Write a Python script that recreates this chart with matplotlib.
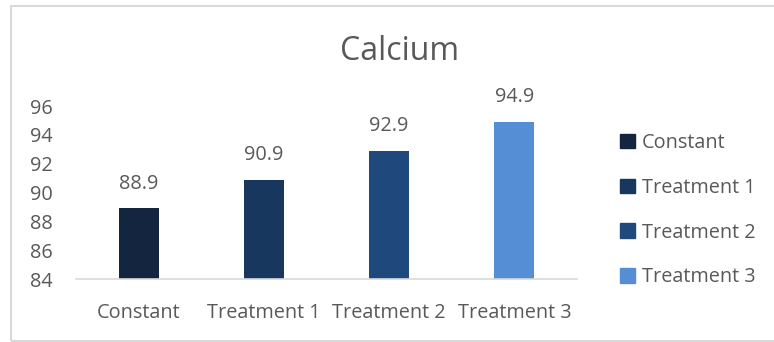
import matplotlib
matplotlib.use("Agg")
import matplotlib.pyplot as plt
from matplotlib.patches import Rectangle

categories = ["Constant", "Treatment 1", "Treatment 2", "Treatment 3"]
values = [88.9, 90.9, 92.9, 94.9]
colors = ["#13253F", "#17375E", "#1F497D", "#558ED5"]
yticks = [84, 86, 88, 90, 92, 94, 96]
title = "Calcium"

text_color = "#595959"
plt.rcParams["font.family"] = ["Open Sans", "DejaVu Sans"]
fs = 14.3

fig = plt.figure(figsize=(7.74, 3.42), dpi=100)
fig.patch.set_facecolor("white")

# chart-area border
fig.patches.append(Rectangle((11 / 774, 1 - 341 / 342), 1.0, (341 - 6) / 342,
                             transform=fig.transFigure, fill=False,
                             edgecolor="#D9D9D9", linewidth=1.5))

ax = fig.add_axes([76 / 774, 1 - 279 / 342, (577 - 76) / 774, (279 - 106) / 342])
x = range(len(categories))
ax.bar(x, values, width=0.32, color=colors, bottom=0)
ax.set_ylim(84, 96)
ax.set_xlim(-0.5, len(categories) - 0.5)
ax.set_yticks(yticks)
ax.set_xticks(list(x))
ax.set_xticklabels(categories)
ax.tick_params(axis="both", length=0, labelsize=fs, colors=text_color)
ax.tick_params(axis="y", pad=16.5)
ax.tick_params(axis="x", pad=17)
for side in ["left", "right", "top"]:
    ax.spines[side].set_visible(False)
ax.spines["bottom"].set_color("#D9D9D9")
ax.spines["bottom"].set_linewidth(1.2)

for xi, v in zip(x, values):
    ax.text(xi, v + 1.72, f"{v:.1f}", ha="center", va="center",
            fontsize=fs, color=text_color)

fig.text(400 / 774, 1 - 51 / 342, title, ha="center", va="center",
         fontsize=23, color=text_color)

handles = [Rectangle((0, 0), 1, 1, color=c) for c in colors]
fig.legend(handles, categories, loc="upper left",
           bbox_to_anchor=(602 / 774, 1 - 115 / 342), frameon=False,
           fontsize=fs, labelcolor=text_color, handlelength=0.75,
           handleheight=0.75, handletextpad=0.35, labelspacing=1.25)

fig.savefig("out.png", dpi=100)
